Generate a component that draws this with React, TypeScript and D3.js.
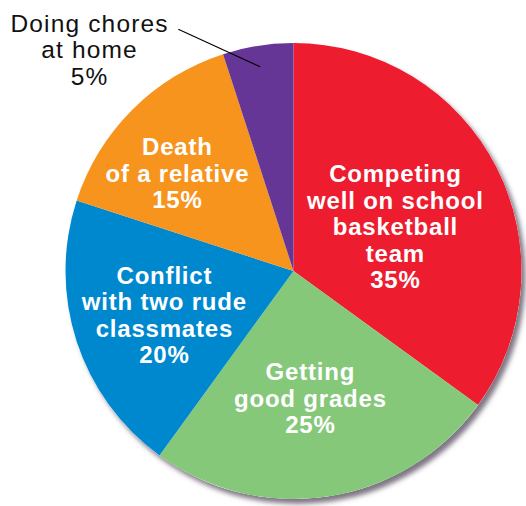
import React from "react";
import * as d3 from "d3";

const categories = [
  "Competing well on school basketball team",
  "Getting good grades",
  "Conflict with two rude classmates",
  "Death of a relative",
  "Doing chores at home",
];
const values = [35, 25, 20, 15, 5];
const labelLines = [
  ["Competing", "well on school", "basketball", "team"],
  ["Getting", "good grades"],
  ["Conflict", "with two rude", "classmates"],
  ["Death", "of a relative"],
  ["Doing chores", "at home"],
];
const colors = ["#ED1C2E", "#86C87A", "#0088CF", "#F7941E", "#653695"];

// layout: label first-baseline positions
const labelPos = [
  { x: 395, y: 182 },
  { x: 310, y: 380 },
  { x: 164, y: 283.5 },
  { x: 177, y: 155 },
  { x: 89, y: 31.7 },
];

const W = 526;
const H = 506;
const cx = 293.5;
const cy = 271;
const R = 228;

export default function App() {
  const pie = d3.pie<number>().sort(null).value((d) => d)(values);
  const arc = d3.arc<d3.PieArcDatum<number>>().innerRadius(0).outerRadius(R);
  const lh = 26.5;
  return (
    <svg
      width={W}
      height={H}
      style={{ position: "absolute", left: 0, top: 0, background: "#fff" }}
    >
      <defs>
        <filter id="sh" x="-20%" y="-20%" width="140%" height="140%">
          <feDropShadow dx="4" dy="5" stdDeviation="2.5" floodColor="#5e5266" floodOpacity="0.8" />
        </filter>
      </defs>
      <g transform={`translate(${cx},${cy})`}>
        <circle r={R} fill="#fff" filter="url(#sh)" />
        {pie.map((p, i) => (
          <path key={categories[i]} d={arc(p) || ""} fill={colors[i]} />
        ))}
      </g>
      <line x1={178.3} y1={29.3} x2={260} y2={66.7} stroke="#000" strokeWidth={1.1} />
      {pie.map((p, i) => {
        const lines = [...labelLines[i], `${values[i]}%`];
        const outside = i === 4;
        const ls = outside ? 1.15 : 0.8;
        return (
          <text
            key={"t" + i}
            textAnchor="middle"
            fontFamily="'Liberation Sans', Arial, sans-serif"
            fontWeight={outside ? 400 : 700}
            fontSize={outside ? 24.5 : 24}
            letterSpacing={ls}
            fill={outside ? "#111" : "#fff"}
          >
            {lines.map((ln, j) => (
              <tspan key={j} x={labelPos[i].x + ls / 2} y={labelPos[i].y + j * lh}>
                {ln}
              </tspan>
            ))}
          </text>
        );
      })}
    </svg>
  );
}
